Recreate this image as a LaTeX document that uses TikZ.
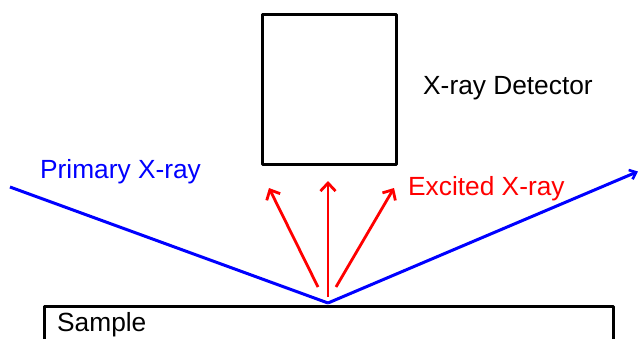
\documentclass[tikz,border=0pt]{standalone}
\usepackage{fontspec}
\setmainfont{Liberation Sans}
\usetikzlibrary{arrows.meta}
\definecolor{rayblue}{RGB}{0,0,255}
\definecolor{rayred}{RGB}{255,0,0}
\begin{document}
\begin{tikzpicture}[x=1pt,y=-1pt,
  lbl/.style={inner sep=0pt, anchor=base west, font=\fontsize{26.3}{30}\selectfont},
  boxline/.style={draw=black, line width=3pt, line join=round},
  primary/.style={draw=rayblue, line width=3pt, line join=round},
  excited/.style={draw=rayred, line width=2.8pt, -{Straight Barb[length=8pt,width=15pt,line width=2.8pt]}}]
\clip (0,0) rectangle (638,338);
\fill[white] (0,0) rectangle (638,338);
% detector
\node[boxline, minimum width=134pt, minimum height=150pt, anchor=north west, inner sep=0pt] (det) at (261,13) {};
\node[lbl] (detlbl) at (423,94) {X-ray Detector};
% sample
\node[boxline, minimum width=569pt, minimum height=80pt, anchor=north west, inner sep=0pt] (sample) at (43,305) {};
\node[lbl] (samplelbl) at (57,331.5) {Sample};
% primary rays
\coordinate (pin) at (10,187);
\coordinate (v) at (328,303);
\coordinate (pout) at (638,171.5);
\draw[primary] (pin) -- (v);
\draw[primary, -{Straight Barb[length=6pt,width=10pt,line width=2.6pt]}] (v) -- (pout);
\node[lbl, text=rayblue] (plbl) at (40,178) {Primary X-ray};
% excited rays
\coordinate (e1s) at (318,287);
\coordinate (e1t) at (269,188);
\coordinate (e2s) at (328,297);
\coordinate (e2t) at (328,181);
\coordinate (e3s) at (336,287);
\coordinate (e3t) at (394,188);
\draw[excited] (e1s) -- (e1t);
\draw[excited] (e2s) -- (e2t);
\draw[excited] (e3s) -- (e3t);
\node[lbl, text=rayred] (elbl) at (408,195) {Excited X-ray};
\end{tikzpicture}
\end{document}
